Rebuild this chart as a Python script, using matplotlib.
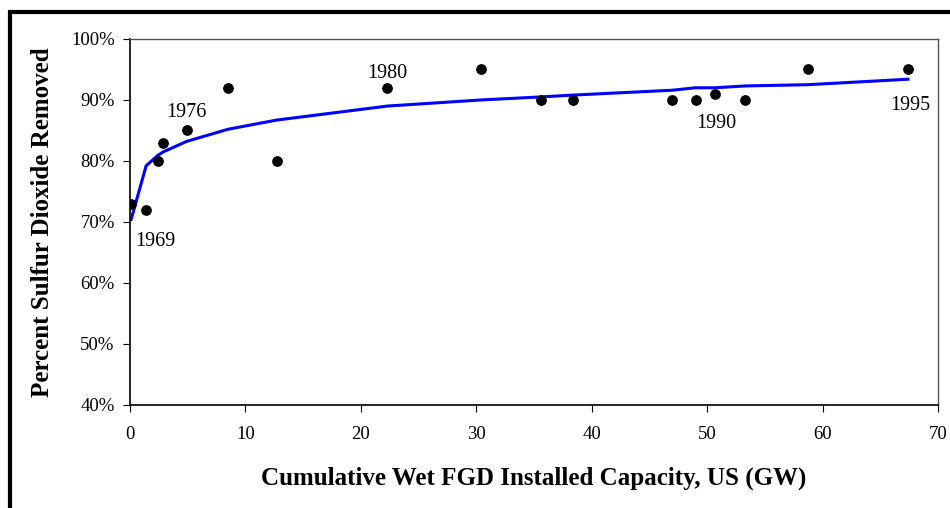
import matplotlib
matplotlib.use("Agg")
import matplotlib.pyplot as plt
from matplotlib.patches import Rectangle
from matplotlib.ticker import PercentFormatter

plt.rcParams["font.family"] = ["Liberation Serif", "DejaVu Serif"]

# observed removal efficiency vs cumulative capacity
capacity_gw = [0.1, 1.4, 2.4, 2.9, 4.9, 8.5, 12.7, 22.3, 30.4, 35.6, 38.4,
               47.0, 49.0, 50.7, 53.3, 58.7, 67.4]
removal_pct = [73, 72, 80, 83, 85, 92, 80, 92, 95, 90, 90,
               90, 90, 91, 90, 95, 95]

# fitted curve
fit_pct = [70.4, 79.2, 80.9, 81.5, 83.2, 85.2, 86.7, 89.0, 90.0, 90.5, 90.8,
           91.6, 92.0, 92.0, 92.3, 92.5, 93.4]

# year labels
year_labels = ["1969", "1976", "1980", "1990", "1995"]
year_pos = [(1.4, 72), (4.9, 85), (22.3, 92), (50.7, 91), (67.4, 95)]
year_offset = [(7, -30), (0, 6), (0, 3.5), (1, -28), (2, -33)]

fig = plt.figure(figsize=(9.5, 5.08), dpi=100)
ax = fig.add_axes([0.1368, 0.2028, 0.8505, 0.7205])

ax.plot(capacity_gw, fit_pct, color="#0000ff", lw=2.2, zorder=2)
ax.scatter(capacity_gw, removal_pct, s=45, color="black", zorder=3)

for lab, (x, y), (dx, dy) in zip(year_labels, year_pos, year_offset):
    ax.annotate(lab, (x, y), xytext=(dx, dy), textcoords="offset points",
                ha="center", va="bottom", fontsize=14.5)

ax.set_xlim(0, 70)
ax.set_ylim(40, 100)
ax.set_xticks(range(0, 71, 10))
ax.set_yticks(range(40, 101, 10))
ax.yaxis.set_major_formatter(PercentFormatter(decimals=0))
ax.tick_params(direction="out", length=5, labelsize=13.5, pad=6)
ax.tick_params(axis="x", pad=10)

for side in ["top", "right"]:
    ax.spines[side].set_color("#555555")
    ax.spines[side].set_linewidth(1)
for side in ["left", "bottom"]:
    ax.spines[side].set_color("black")
    ax.spines[side].set_linewidth(1.2)

ax.set_xlabel("Cumulative Wet FGD Installed Capacity, US (GW)",
              fontsize=18, fontweight="bold", labelpad=17)
ax.set_ylabel("Percent Sulfur Dioxide Removed",
              fontsize=18, fontweight="bold", labelpad=12)

# outer frame around the chart
fig.patches.append(Rectangle((0.0105, -0.05), 1.2, 1.026, transform=fig.transFigure,
                             fill=False, edgecolor="black", lw=3))

fig.savefig("out.png", dpi=100)
